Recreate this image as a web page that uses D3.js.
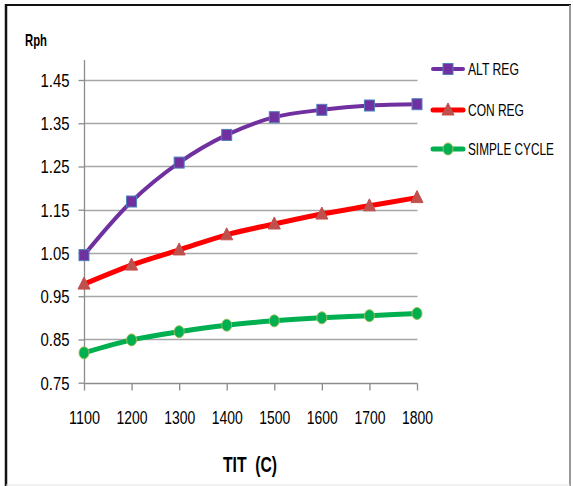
<!DOCTYPE html>
<html>
<head>
<meta charset="utf-8">
<script src="https://cdn.jsdelivr.net/npm/d3@7/dist/d3.min.js"></script>
<style>
  html, body { margin: 0; padding: 0; background: #fff; }
  svg { display: block; }
  text { font-family: "Liberation Sans Narrow", "Arial Narrow", "Liberation Sans", sans-serif; fill: #000; }
</style>
</head>
<body>
<svg id="chart" width="573" height="486"></svg>
<script>
const categories = [1100, 1200, 1300, 1400, 1500, 1600, 1700, 1800];
const altReg = [1.045, 1.169, 1.259, 1.323, 1.364, 1.381, 1.391, 1.394];
const conReg = [0.978, 1.022, 1.057, 1.092, 1.117, 1.140, 1.159, 1.178];
const simpleCycle = [0.819, 0.849, 0.868, 0.883, 0.893, 0.900, 0.905, 0.910];
const yTicks = [0.75, 0.85, 0.95, 1.05, 1.15, 1.25, 1.35, 1.45];
const seriesNames = ["ALT REG", "CON REG", "SIMPLE CYCLE"];

const series = [
  { name: seriesNames[0], values: altReg, line: "#7030A0", fill: "#7030A0", stroke: "#4F81BD", shape: "square", width: 4, tl: 51 },
  { name: seriesNames[1], values: conReg, line: "#FF0000", fill: "#C0504D", stroke: "#C0504D", shape: "triangle", width: 5, tl: 56 },
  { name: seriesNames[2], values: simpleCycle, line: "#00B050", fill: "#00B050", stroke: "#9BBB59", shape: "circle", width: 5, tl: 86 }
];

const svg = d3.select("#chart");

function squeeze(sel, w) {
  sel.attr("textLength", w).attr("lengthAdjust", "spacingAndGlyphs");
}

// frame
svg.append("rect").attr("x", 0).attr("y", 0).attr("width", 573).attr("height", 486).attr("fill", "#fff");
svg.append("line").attr("x1", 5).attr("x2", 571).attr("y1", 5).attr("y2", 5).attr("stroke", "#111").attr("stroke-width", 2);
svg.append("line").attr("x1", 6).attr("x2", 6).attr("y1", 4).attr("y2", 486).attr("stroke", "#111").attr("stroke-width", 2.5);
svg.append("line").attr("x1", 570).attr("x2", 570).attr("y1", 5).attr("y2", 486).attr("stroke", "#999").attr("stroke-width", 2);
svg.append("line").attr("x1", 6).attr("x2", 570).attr("y1", 485).attr("y2", 485).attr("stroke", "#e4e4e4").attr("stroke-width", 1);

const x = d3.scaleLinear().domain([1100, 1800]).range([84, 417]);
const y = d3.scaleLinear().domain([0.75, 1.45]).range([382.7, 80]);

// gridlines
svg.append("g").selectAll("line").data(yTicks.slice(1)).join("line")
  .attr("x1", 84).attr("x2", 417.5)
  .attr("y1", d => Math.round(y(d)) + 0.5).attr("y2", d => Math.round(y(d)) + 0.5)
  .attr("stroke", "#A6A6A6").attr("stroke-width", 1.3);

// y axis
const yAxis = d3.axisLeft(y).tickValues(yTicks).tickSize(6).tickPadding(9).tickFormat(d3.format(".2f"));
const gy = svg.append("g").attr("transform", "translate(84.5,0)").call(yAxis);
gy.select(".domain").attr("stroke", "#8C8C8C").attr("stroke-width", 1.3).attr("d", `M0,${y(1.45) - 20}V${y(0.75)}`);
gy.selectAll(".tick line").attr("stroke", "#8C8C8C").attr("stroke-width", 1.3);
gy.selectAll(".tick text").style("font-size", "18px").attr("fill", "#000").attr("dy", "0.36em").call(squeeze, 29);

// x axis
const xAxis = d3.axisBottom(x).tickValues(categories).tickSize(7).tickPadding(21).tickFormat(d3.format("d"));
const gx = svg.append("g").attr("transform", `translate(0,${Math.round(y(0.75)) + 0.5})`).call(xAxis);
gx.select(".domain").attr("stroke", "#8C8C8C").attr("stroke-width", 1.3).attr("d", `M84,0H417.5`);
gx.selectAll(".tick line").attr("stroke", "#8C8C8C").attr("stroke-width", 1.3);
gx.selectAll(".tick text").style("font-size", "18px").attr("fill", "#000").call(squeeze, 31);

// titles
svg.append("text").attr("x", 25).attr("y", 46).text("Rph")
  .style("font-size", "17px").style("font-weight", "bold").call(squeeze, 22);
svg.append("text").attr("x", 223).attr("y", 472).text("TIT  (C)")
  .style("font-size", "22px").style("font-weight", "bold").attr("xml:space", "preserve").call(squeeze, 54);

// lines
const lineGen = d3.line().x((d, i) => x(categories[i])).y(d => y(d)).curve(d3.curveCatmullRom.alpha(0.5));

function drawMarker(g, shape, cx, cy, s) {
  if (shape === "square") {
    g.append("rect").attr("x", cx - 5).attr("y", cy - 5.5).attr("width", 10).attr("height", 11)
      .attr("fill", s.fill).attr("stroke", s.stroke).attr("stroke-width", 1);
  } else if (shape === "triangle") {
    g.append("path").attr("d", `M${cx},${cy - 7}L${cx + 6},${cy + 5}L${cx - 6},${cy + 5}Z`)
      .attr("fill", s.fill).attr("stroke", s.stroke).attr("stroke-width", 1);
  } else {
    g.append("ellipse").attr("cx", cx).attr("cy", cy).attr("rx", 5).attr("ry", 6)
      .attr("fill", s.fill).attr("stroke", s.stroke).attr("stroke-width", 1);
  }
}

series.forEach(s => {
  svg.append("path").datum(s.values).attr("d", lineGen)
    .attr("fill", "none").attr("stroke", s.line).attr("stroke-width", s.width)
    .attr("stroke-linecap", "round").attr("stroke-linejoin", "round");
  const g = svg.append("g");
  s.values.forEach((v, i) => drawMarker(g, s.shape, x(categories[i]), y(v), s));
});

// legend
const legendY = [69, 110, 149];
series.forEach((s, i) => {
  const g = svg.append("g");
  g.append("line").attr("x1", 433).attr("x2", 463).attr("y1", legendY[i]).attr("y2", legendY[i])
    .attr("stroke", s.line).attr("stroke-width", s.width).attr("stroke-linecap", "round");
  drawMarker(g, s.shape, 448, legendY[i], s);
  const tg = g.append("g");
  const t = tg.append("text").attr("x", 0).attr("y", 0).attr("dy", "0.36em").text(s.name)
    .style("font-size", "16px");
  const natural = t.node().getComputedTextLength();
  const sx = s.tl / natural;
  tg.attr("transform", `translate(468,${legendY[i]}) scale(${sx},1)`);
});
</script>
</body>
</html>
